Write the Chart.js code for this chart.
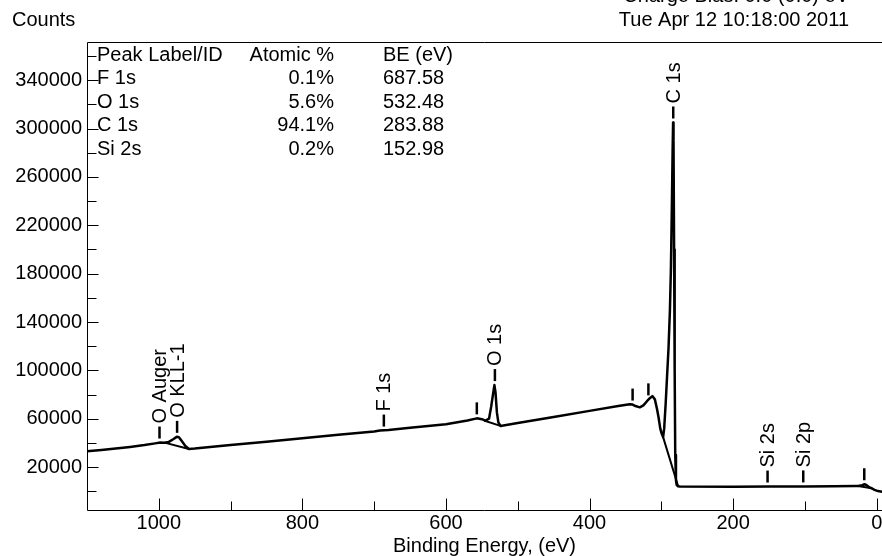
<!DOCTYPE html>
<html>
<head>
<meta charset="utf-8">
<script src="https://cdn.jsdelivr.net/npm/chart.js@4"></script>
<style>
  html, body { margin: 0; padding: 0; background: #fff; overflow: hidden; }
  #wrap { width: 882px; height: 556px; position: relative; }
</style>
</head>
<body>
<div id="wrap"><canvas id="survey"></canvas></div>
<script>
// XPS survey spectrum (binding energy in eV, counts)
const spectrumBE = [1100, 1080, 1060, 1040, 1020, 1005, 998, 992, 986, 980, 975, 972, 968, 963, 958, 950,
  900, 850, 800, 750, 700, 692, 680, 650, 600, 570, 557, 550, 545, 540, 537, 534, 532.5, 531, 529, 527, 524,
  500, 450, 400, 360, 344, 340, 336, 330, 325, 320, 316, 312.5, 309, 306, 304, 301.5, 299.6, 297.5,
  296, 294, 292, 290, 288, 286.6, 285.2, 284.3, 283.6, 283, 282.2, 281.4, 280.6, 279.6, 278.6, 277, 274,
  200, 150, 100, 60, 30, 26, 20, 17, 14, 10, 7, 3, 0, -7.4];
const spectrumCounts = [33000, 34200, 35400, 36700, 38200, 39600, 40300, 40200, 40800, 43000, 45000, 44700, 41500, 37500, 35000, 35300,
  38200, 41000, 43900, 46700, 49500, 50200, 50700, 52600, 55400, 58500, 60300, 59600, 58400, 60000, 70000, 82000, 87800, 82000, 65000, 57000, 54000,
  56400, 61400, 66500, 70500, 72000, 71700, 70500, 69400, 71000, 74500, 77000, 78700, 76000, 68000, 61600, 52000, 47900, 44800,
  52000, 72000, 95000, 118000, 150000, 185000, 240000, 280000, 305000, 290000, 200000, 100000, 30000, 9000, 5200, 4200, 3900,
  3800, 3900, 4000, 4100, 4300, 4300, 5000, 5800, 5000, 3200, 2500, 1200, 500, -400];

// background lines under the fitted regions
const bgOkllBE = [992, 958];
const bgOkllCounts = [40200, 35000];
const bgO1sBE = [546, 523];
const bgO1sCounts = [58300, 53900];
const bgC1sBE = [297.5, 277];
const bgC1sCounts = [44800, 5000];
const bgLowBE = [26, 7];
const bgLowCounts = [4300, 2500];

// peak markers
const markerNames = ['O Auger', 'O KLL-1', 'F 1s', '', 'O 1s', '', '', 'C 1s', 'Si 2s', 'Si 2p', ''];
const markerBE = [999, 974.5, 686.5, 557, 531.8, 340, 318, 283.4, 152, 102.3, 17.3];
const markerCounts = [40300, 45000, 50200, 60300, 87800, 71700, 76000, 305000, 3900, 4000, 5800];

// quantification table
const tableHeader = ['Peak Label/ID', 'Atomic %', 'BE (eV)'];
const peakIds = ['F 1s', 'O 1s', 'C 1s', 'Si 2s'];
const atomicPct = [0.1, 5.6, 94.1, 0.2];
const peakBE = [687.58, 532.48, 283.88, 152.98];

// axis ticks
const xTicks = [0, 100, 200, 300, 400, 500, 600, 700, 800, 900, 1000];
const xLabelled = [0, 200, 400, 600, 800, 1000];
const yTicks = [0, 20000, 40000, 60000, 80000, 100000, 120000, 140000, 160000, 180000, 200000,
  220000, 240000, 260000, 280000, 300000, 320000, 340000, 360000];
const yLabelled = [20000, 60000, 100000, 140000, 180000, 220000, 260000, 300000, 340000];

const FONT = '"Liberation Sans", Arial, sans-serif';
const toPoints = (xs, ys) => xs.map((v, i) => ({ x: v, y: ys[i] }));

// axes frame, inward ticks, marker labels and the text blocks
const decor = {
  id: 'decor',
  afterDraw(chart) {
    const { ctx, chartArea: a, scales: { x, y } } = chart;
    const L = Math.floor(a.left) + 0.5, B = Math.floor(a.bottom) + 0.5, T = Math.floor(a.top) + 0.5;
    ctx.save();
    ctx.strokeStyle = '#000';
    ctx.lineWidth = 1;
    ctx.beginPath();
    ctx.moveTo(L, T); ctx.lineTo(L, B); ctx.lineTo(a.right, B);
    ctx.moveTo(L, T); ctx.lineTo(a.right, T);
    x.ticks.forEach(t => {
      const px = Math.round(x.getPixelForValue(t.value)) + 0.5;
      const len = xLabelled.includes(t.value) ? 12 : 9;
      ctx.moveTo(px, B); ctx.lineTo(px, B - len);
    });
    y.ticks.forEach(t => {
      const py = Math.round(y.getPixelForValue(t.value)) + 0.5;
      const len = yLabelled.includes(t.value) ? 11 : 9;
      ctx.moveTo(L, py); ctx.lineTo(L + len, py);
    });
    ctx.stroke();

    // peak markers
    ctx.fillStyle = '#000';
    ctx.font = '20px ' + FONT;
    ctx.lineWidth = 2.5;
    markerBE.forEach((be, i) => {
      const px = x.getPixelForValue(be);
      const py = y.getPixelForValue(markerCounts[i]) - 4;
      ctx.beginPath();
      ctx.moveTo(px, py); ctx.lineTo(px, py - 12);
      ctx.stroke();
      if (markerNames[i]) {
        ctx.save();
        ctx.translate(px, py - 15);
        ctx.rotate(-Math.PI / 2);
        ctx.textAlign = 'left';
        ctx.textBaseline = 'middle';
        ctx.fillText(markerNames[i], 0, 1);
        ctx.restore();
      }
    });

    // table
    ctx.textBaseline = 'middle';
    const rowY = i => a.top + 12.3 + i * 23.5;
    ctx.textAlign = 'left';
    ctx.fillText(tableHeader[0], 97, rowY(0));
    ctx.textAlign = 'right';
    ctx.fillText(tableHeader[1], 334, rowY(0));
    ctx.textAlign = 'left';
    ctx.fillText(tableHeader[2], 383, rowY(0));
    peakIds.forEach((id, i) => {
      ctx.textAlign = 'left';
      ctx.fillText(id, 97, rowY(i + 1));
      ctx.textAlign = 'right';
      ctx.fillText(atomicPct[i].toFixed(1) + '%', 334, rowY(i + 1));
      ctx.textAlign = 'left';
      ctx.fillText(peakBE[i].toFixed(2), 383, rowY(i + 1));
    });

    // header texts
    ctx.textAlign = 'left';
    ctx.fillText('Counts', 12, 20);
    ctx.textAlign = 'right';
    ctx.fillText('Charge Bias: 0.0 (0.0) eV', 849, -3.5);
    ctx.fillText('Tue Apr 12 10:18:00 2011', 849, 20);
    ctx.restore();
  }
};

const lineStyle = (w) => ({
  borderColor: '#000',
  borderWidth: w,
  pointRadius: 0,
  tension: 0,
  fill: false,
  borderJoinStyle: 'round',
  borderCapStyle: 'round'
});

new Chart(document.getElementById('survey'), {
  type: 'line',
  data: {
    datasets: [
      { label: 'Survey', data: toPoints(spectrumBE, spectrumCounts), ...lineStyle(2.5) },
      { label: 'O KLL bg', data: toPoints(bgOkllBE, bgOkllCounts), ...lineStyle(2) },
      { label: 'O 1s bg', data: toPoints(bgO1sBE, bgO1sCounts), ...lineStyle(2) },
      { label: 'C 1s bg', data: toPoints(bgC1sBE, bgC1sCounts), ...lineStyle(2) },
      { label: 'Low bg', data: toPoints(bgLowBE, bgLowCounts), ...lineStyle(2) }
    ]
  },
  options: {
    responsive: true,
    maintainAspectRatio: false,
    animation: false,
    devicePixelRatio: 1,
    layout: { padding: { top: 42.7, left: 0, right: 0, bottom: 0 } },
    plugins: { legend: { display: false }, tooltip: { enabled: false } },
    scales: {
      x: {
        type: 'linear',
        reverse: true,
        min: -7.4,
        max: 1100,
        grid: { display: false, drawTicks: false, tickLength: 0 },
        border: { display: false },
        afterBuildTicks: (scale) => { scale.ticks = xTicks.map(v => ({ value: v })); },
        afterFit: (scale) => { scale.height = 46; scale.paddingLeft = 0; scale.paddingRight = 0; },
        ticks: {
          autoSkip: false,
          maxRotation: 0,
          padding: 1,
          color: '#000',
          font: { family: FONT, size: 20 },
          callback: (v) => xLabelled.includes(v) ? String(v) : ''
        },
        title: {
          display: true,
          text: 'Binding Energy, (eV)',
          color: '#000',
          font: { family: FONT, size: 20 },
          padding: { top: 0, bottom: -2 }
        }
      },
      y: {
        type: 'linear',
        min: -15500,
        max: 371000,
        grid: { display: false, drawTicks: false, tickLength: 0 },
        border: { display: false },
        afterBuildTicks: (scale) => { scale.ticks = yTicks.map(v => ({ value: v })); },
        afterFit: (scale) => { scale.width = 87; scale.paddingTop = 0; scale.paddingBottom = 0; },
        ticks: {
          autoSkip: false,
          padding: 5,
          color: '#000',
          font: { family: FONT, size: 20 },
          callback: (v) => yLabelled.includes(v) ? String(v) : ''
        }
      }
    }
  },
  plugins: [decor]
});
</script>
</body>
</html>
